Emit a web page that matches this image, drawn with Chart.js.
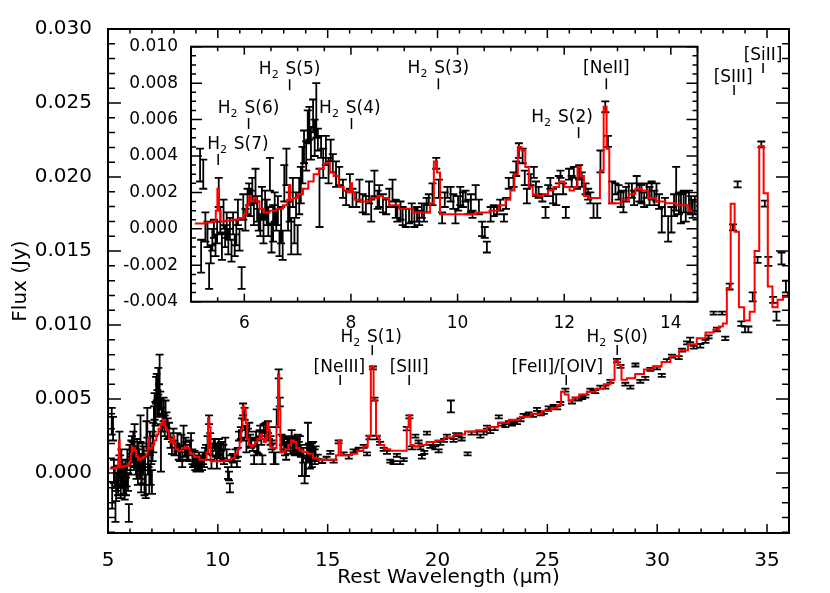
<!DOCTYPE html>
<html>
<head>
<meta charset="utf-8">
<script src="https://cdn.jsdelivr.net/npm/chart.js@4.4.1/dist/chart.umd.min.js"></script>
<style>
  html, body { margin: 0; padding: 0; background: #fff; }
  #wrap { position: relative; width: 830px; height: 593px; }
  #wrap canvas { position: absolute; left: 0; top: 0; }
</style>
</head>
<body>
<div id="wrap">
  <canvas id="main" width="830" height="593"></canvas>
  <canvas id="inset" width="830" height="593"></canvas>
</div>
<script>
// short-low spectrum (5-14.5 um)
const waveSL = [
  5.17, 5.19, 5.23, 5.27, 5.31, 5.34, 5.37, 5.40, 5.43, 5.46,
  5.49, 5.52, 5.55, 5.58, 5.61, 5.64, 5.67, 5.70, 5.73, 5.76,
  5.79, 5.82, 5.85, 5.88, 5.91, 5.95, 5.98, 6.02, 6.06, 6.09,
  6.12, 6.15, 6.18, 6.21, 6.24, 6.27, 6.30, 6.33, 6.36, 6.39,
  6.42, 6.45, 6.48, 6.51, 6.54, 6.57, 6.60, 6.63, 6.66, 6.69,
  6.72, 6.75, 6.79, 6.82, 6.85, 6.88, 6.91, 6.94, 6.97, 7.00,
  7.03, 7.06, 7.09, 7.12, 7.16, 7.19, 7.22, 7.25, 7.29, 7.32,
  7.35, 7.38, 7.41, 7.44, 7.48, 7.53, 7.58, 7.62, 7.66, 7.72,
  7.78, 7.85, 7.91, 7.98, 8.03, 8.10, 8.16, 8.22, 8.28, 8.34,
  8.38, 8.44, 8.50, 8.53, 8.60, 8.66, 8.72, 8.78, 8.84, 8.87,
  8.93, 8.97, 9.03, 9.09, 9.14, 9.19, 9.24, 9.28, 9.33, 9.37,
  9.42, 9.46, 9.53, 9.60, 9.65, 9.71, 9.76, 9.81, 9.87, 9.92,
  9.96, 10.01, 10.05, 10.10, 10.15, 10.20, 10.25, 10.28, 10.34, 10.40,
  10.46, 10.51, 10.55, 10.62, 10.68, 10.74, 10.80, 10.87, 10.91, 10.96,
  11.05, 11.10, 11.15, 11.22, 11.26, 11.30, 11.37, 11.43, 11.47, 11.52,
  11.59, 11.65, 11.70, 11.74, 11.79, 11.85, 11.90, 11.93, 11.98, 12.03,
  12.09, 12.14, 12.18, 12.24, 12.28, 12.33, 12.40, 12.45, 12.49, 12.55,
  12.62, 12.68, 12.77, 12.82, 12.90, 12.96, 13.02, 13.06, 13.11, 13.16,
  13.21, 13.27, 13.31, 13.36, 13.41, 13.45, 13.50, 13.55, 13.60, 13.64,
  13.69, 13.73, 13.78, 13.83, 13.89, 13.95, 14.01, 14.06, 14.10, 14.15,
  14.19, 14.24, 14.28, 14.34, 14.38, 14.41, 14.45
];
const fluxSL = [
  0.0035, -0.0015, 0.0030, 0.0001, -0.0003, -0.0026, -0.0014, -0.0006, 0.0000, -0.0009,
  -0.0002, 0.0020, 0.0005, -0.0010, 0.0008, -0.0004, 0.0002, -0.0007, 0.0000, -0.0012,
  0.0003, -0.0009, -0.0002, 0.0009, -0.0006, -0.0027, 0.0012, 0.0005, 0.0015, 0.0019,
  0.0014, 0.0021, 0.0009, 0.0024, 0.0011, 0.0005, 0.0002, 0.0015, -0.0001, 0.0013,
  0.0009, 0.0004, 0.0030, -0.0005, 0.0003, 0.0012, 0.0005, 0.0010, -0.0008, 0.0002,
  -0.0009, 0.0025, 0.0034, 0.0007, 0.0012, -0.0004, 0.0020, -0.0001, 0.0013, -0.0006,
  0.0018, 0.0024, 0.0035, 0.0045, 0.0040, 0.0056, 0.0058, 0.0047, 0.0062, 0.0050,
  0.0065, 0.0049, 0.0017, 0.0045, 0.0036, 0.0043, 0.0032, 0.0043, 0.0036, 0.0030,
  0.0029, 0.0022, 0.0017, 0.0026, 0.0017, 0.0016, 0.0021, 0.0014, 0.0013, 0.0020,
  0.0010, 0.0025, 0.0016, 0.0018, 0.0014, 0.0012, 0.0017, 0.0021, 0.0011, 0.0008,
  0.0010, 0.0007, 0.0006, 0.0007, 0.0009, 0.0006, 0.0008, 0.0006, 0.0010, 0.0009,
  0.0013, 0.0016, 0.0019, 0.0036, 0.0022, 0.0006, 0.0016, 0.0020, 0.0019, 0.0015,
  0.0007, 0.0014, 0.0018, 0.0016, 0.0018, 0.0012, 0.0014, 0.0008, 0.0020, 0.0012,
  0.0000, -0.0002, -0.0010, 0.0008, 0.0010, 0.0010, 0.0013, 0.0006, 0.0014, 0.0025,
  0.0027, 0.0033, 0.0043, 0.0040, 0.0028, 0.0018, 0.0027, 0.0031, 0.0022, 0.0020,
  0.0017, 0.0009, 0.0021, 0.0025, 0.0018, 0.0016, 0.0027, 0.0030, 0.0022, 0.0009,
  0.0030, 0.0026, 0.0031, 0.0025, 0.0031, 0.0027, 0.0022, 0.0019, 0.0017, 0.0010,
  0.0010, 0.0037, 0.0067, 0.0048, 0.0020, 0.0022, 0.0020, 0.0016, 0.0015, 0.0019,
  0.0021, 0.0021, 0.0017, 0.0025, 0.0020, 0.0019, 0.0016, 0.0021, 0.0018, 0.0021,
  0.0017, 0.0020, 0.0015, 0.0005, 0.0012, 0.0000, 0.0005, 0.0013, 0.0022, 0.0014,
  0.0011, 0.0015, 0.0012, 0.0015, 0.0013, 0.0011, 0.0013
];
const errSL = [
  0.0009, 0.0009, 0.0008, 0.0008, 0.0007, 0.0007, 0.0005, 0.0006, 0.0005, 0.0006,
  0.0006, 0.0008, 0.0007, 0.0007, 0.0008, 0.0006, 0.0007, 0.0007, 0.0006, 0.0006,
  0.0006, 0.0006, 0.0007, 0.0007, 0.0006, 0.0006, 0.0007, 0.0006, 0.0007, 0.0006,
  0.0007, 0.0007, 0.0007, 0.0009, 0.0007, 0.0006, 0.0006, 0.0008, 0.0007, 0.0008,
  0.0007, 0.0008, 0.0009, 0.0008, 0.0010, 0.0008, 0.0006, 0.0008, 0.0007, 0.0010,
  0.0008, 0.0010, 0.0010, 0.0008, 0.0008, 0.0010, 0.0008, 0.0007, 0.0007, 0.0008,
  0.0010, 0.0010, 0.0010, 0.0009, 0.0008, 0.0009, 0.0009, 0.0009, 0.0009, 0.0010,
  0.0015, 0.0006, 0.0016, 0.0006, 0.0008, 0.0008, 0.0007, 0.0006, 0.0005, 0.0007,
  0.0005, 0.0005, 0.0004, 0.0004, 0.0005, 0.0004, 0.0006, 0.0005, 0.0005, 0.0006,
  0.0006, 0.0007, 0.0005, 0.0006, 0.0005, 0.0004, 0.0005, 0.0006, 0.0005, 0.0004,
  0.0005, 0.0005, 0.0005, 0.0004, 0.0005, 0.0005, 0.0004, 0.0004, 0.0004, 0.0005,
  0.0004, 0.0003, 0.0006, 0.0003, 0.0005, 0.0003, 0.0004, 0.0003, 0.0004, 0.0004,
  0.0004, 0.0004, 0.0005, 0.0004, 0.0003, 0.0004, 0.0005, 0.0002, 0.0004, 0.0004,
  0.0004, 0.0003, 0.0003, 0.0004, 0.0003, 0.0002, 0.0003, 0.0002, 0.0003, 0.0003,
  0.0004, 0.0004, 0.0004, 0.0004, 0.0004, 0.0004, 0.0003, 0.0003, 0.0004, 0.0003,
  0.0002, 0.0003, 0.0003, 0.0003, 0.0004, 0.0003, 0.0002, 0.0002, 0.0003, 0.0003,
  0.0003, 0.0003, 0.0003, 0.0003, 0.0004, 0.0004, 0.0003, 0.0003, 0.0003, 0.0004,
  0.0004, 0.0006, 0.0003, 0.0003, 0.0006, 0.0003, 0.0004, 0.0004, 0.0006, 0.0004,
  0.0004, 0.0004, 0.0004, 0.0004, 0.0005, 0.0005, 0.0004, 0.0004, 0.0005, 0.0005,
  0.0004, 0.0005, 0.0004, 0.0007, 0.0005, 0.0007, 0.0007, 0.0006, 0.0012, 0.0006,
  0.0008, 0.0006, 0.0008, 0.0006, 0.0005, 0.0005, 0.0005
];

// long-low spectrum (14.5-36 um)
const waveLL = [
  14.55, 14.75, 14.95, 15.12, 15.27, 15.50, 15.73, 15.96, 16.18, 16.41,
  16.64, 16.79, 16.90, 17.06, 17.13, 17.24, 17.39, 17.55, 17.70, 17.85,
  18.00, 18.15, 18.30, 18.46, 18.60, 18.72, 18.84, 18.99, 19.14, 19.22,
  19.29, 19.40, 19.52, 19.67, 19.80, 19.90, 20.05, 20.13, 20.30, 20.43,
  20.61, 20.73, 20.85, 20.96, 21.10, 21.37, 21.55, 21.80, 21.95, 22.10,
  22.25, 22.40, 22.60, 22.79, 22.95, 23.09, 23.25, 23.39, 23.62, 23.78,
  23.92, 24.15, 24.35, 24.53, 24.70, 24.84, 25.06, 25.29, 25.45, 25.59,
  25.82, 26.12, 26.28, 26.42, 26.58, 26.73, 26.96, 27.18, 27.41, 27.64,
  27.87, 28.17, 28.33, 28.55, 28.78, 29.01, 29.23, 29.46, 29.69, 29.99,
  30.21, 30.44, 30.67, 30.98, 31.13, 31.36, 31.50, 31.66, 31.96, 32.20,
  32.34, 32.57, 32.72, 32.95, 33.10, 33.30, 33.45, 33.66, 33.83, 34.00,
  34.15, 34.35, 34.57, 34.74, 34.90, 35.06, 35.28, 35.43, 35.66, 35.86
];
const fluxLL = [
  0.0011, 0.0008, 0.0010, 0.0014, 0.0008, 0.0021, 0.0013, 0.0011, 0.0015, 0.0016,
  0.0018, 0.0013, 0.0024, 0.0071, 0.0050, 0.0024, 0.0020, 0.0016, 0.0014, 0.0008,
  0.0007, 0.0012, 0.0007, 0.0009, 0.0030, 0.0038, 0.0017, 0.0025, 0.0021, 0.0017,
  0.0011, 0.0014, 0.0027, 0.0018, 0.0020, 0.0017, 0.0015, 0.0020, 0.0022, 0.0025,
  0.0045, 0.0022, 0.0026, 0.0026, 0.0023, 0.0013, 0.0027, 0.0027, 0.0025, 0.0027,
  0.0031, 0.0028, 0.0030, 0.0038, 0.0033, 0.0032, 0.0034, 0.0033, 0.0034, 0.0036,
  0.0039, 0.0040, 0.0039, 0.0043, 0.0040, 0.0041, 0.0044, 0.0045, 0.0044, 0.0047,
  0.0056, 0.0048, 0.0050, 0.0050, 0.0051, 0.0052, 0.0056, 0.0055, 0.0058, 0.0058,
  0.0062, 0.0076, 0.0072, 0.0060, 0.0058, 0.0073, 0.0062, 0.0064, 0.0070, 0.0071,
  0.0066, 0.0076, 0.0079, 0.0078, 0.0083, 0.0088, 0.0090, 0.0085, 0.0086, 0.0089,
  0.0092, 0.0108, 0.0097, 0.0108, 0.0091, 0.0126, 0.0166, 0.0195, 0.0101, 0.0097,
  0.0097, 0.0119, 0.0144, 0.0222, 0.0182, 0.0143, 0.0117, 0.0106, 0.0145, 0.0126
];
const errLL = [
  0.00015, 0.00012, 0.0001, 0.0001, 0.0001, 0.0001, 0.0001, 0.00012, 0.0001, 0.00012,
  0.0001, 0.0001, 0.00012, 0.0001, 0.0001, 0.00012, 0.0001, 0.0001, 0.0001, 0.0001,
  0.0001, 0.0001, 0.0001, 0.0001, 0.00012, 0.0001, 0.0001, 0.0001, 0.0001, 0.0001,
  0.00012, 0.0001, 0.0001, 0.0001, 0.0001, 0.0001, 0.0001, 0.0001, 0.0001, 0.0001,
  0.0004, 0.0001, 0.0001, 0.0001, 0.0001, 0.0001, 0.0001, 0.0001, 0.0001, 0.0001,
  0.0001, 0.0001, 0.0001, 0.0001, 0.0001, 0.0001, 0.0001, 0.0001, 0.0001, 0.0001,
  0.0001, 0.0001, 0.0001, 0.0001, 0.0001, 0.0001, 0.0001, 0.0001, 0.0001, 0.0001,
  0.0001, 0.0001, 0.0001, 0.0001, 0.0001, 0.0001, 0.0001, 0.0001, 0.0001, 0.0001,
  0.0001, 0.00012, 0.0001, 0.0001, 0.0001, 0.0001, 0.0001, 0.0001, 0.0001, 0.0001,
  0.0001, 0.0001, 0.0001, 0.0001, 0.0001, 0.0001, 0.00015, 0.0001, 0.00012, 0.0001,
  0.0001, 0.0001, 0.00012, 0.0001, 0.00012, 0.0002, 0.0002, 0.0002, 0.00015, 0.0002,
  0.0002, 0.0003, 0.0002, 0.0002, 0.0002, 0.0003, 0.0002, 0.0003, 0.0004, 0.0004
];

// fitted model (drawn as histogram)
const modelWave = [
  5.07, 5.20, 5.35, 5.45, 5.48, 5.51, 5.54, 5.57, 5.70, 5.85,
  5.95, 6.02, 6.06, 6.10, 6.15, 6.20, 6.25, 6.32, 6.41, 6.54,
  6.66, 6.79, 6.82, 6.85, 6.88, 6.95, 7.05, 7.15, 7.25, 7.35,
  7.45, 7.53, 7.58, 7.63, 7.72, 7.82, 7.91, 7.97, 8.00, 8.04,
  8.10, 8.28, 8.45, 8.55, 8.65, 8.78, 9.03, 9.28, 9.45, 9.52,
  9.59, 9.64, 9.70, 9.90, 10.20, 10.50, 10.70, 10.85, 10.95, 11.03,
  11.10, 11.16, 11.24, 11.30, 11.37, 11.45, 11.55, 11.65, 11.75, 11.85,
  11.96, 12.05, 12.15, 12.22, 12.28, 12.34, 12.40, 12.50, 12.63, 12.71,
  12.77, 12.82, 12.87, 13.00, 13.15, 13.27, 13.40, 13.50, 13.64, 13.80,
  14.00, 14.20, 14.45, 14.70, 15.00, 15.30, 15.45, 15.55, 15.65, 15.90,
  16.20, 16.50, 16.75, 16.90, 17.03, 17.15, 17.25, 17.45, 17.70, 18.00,
  18.30, 18.55, 18.65, 18.72, 18.82, 19.00, 19.30, 19.70, 20.10, 20.50,
  21.00, 21.50, 22.00, 22.50, 23.00, 23.50, 24.00, 24.50, 25.00, 25.35,
  25.55, 25.70, 25.88, 26.05, 26.30, 26.60, 27.00, 27.40, 27.75, 28.00,
  28.12, 28.30, 28.45, 28.80, 29.20, 29.60, 30.00, 30.40, 30.80, 31.20,
  31.60, 32.00, 32.40, 32.72, 32.90, 33.08, 33.26, 33.43, 33.62, 33.82,
  34.09, 34.33, 34.54, 34.75, 34.94, 35.13, 35.36, 35.60, 35.85, 36.05
];
const modelFlux = [
  0.0003, 0.0003, 0.00035, 0.0004, 0.0010, 0.0022, 0.0010, 0.0004, 0.00045, 0.0005,
  0.0006, 0.0008, 0.0013, 0.0018, 0.0015, 0.0017, 0.0015, 0.0011, 0.0009, 0.0010,
  0.0011, 0.0013, 0.0016, 0.0024, 0.0016, 0.0017, 0.0019, 0.0022, 0.0026, 0.0030,
  0.0033, 0.0036, 0.0036, 0.0031, 0.0029, 0.0023, 0.0021, 0.0020, 0.0025, 0.0020,
  0.0016, 0.0015, 0.0017, 0.0018, 0.0017, 0.0013, 0.0011, 0.0009, 0.0009, 0.0014,
  0.0037, 0.0031, 0.0008, 0.0008, 0.0008, 0.0009, 0.0010, 0.0013, 0.0016, 0.0021,
  0.0030, 0.0045, 0.0043, 0.0034, 0.0023, 0.0019, 0.0018, 0.0019, 0.0021, 0.0023,
  0.0026, 0.0023, 0.0021, 0.0023, 0.0034, 0.0029, 0.0018, 0.0017, 0.0017, 0.0032,
  0.0067, 0.0044, 0.0014, 0.0014, 0.0016, 0.0019, 0.0022, 0.0021, 0.0017, 0.0015,
  0.0014, 0.0013, 0.0010, 0.0009, 0.0009, 0.0009, 0.0012, 0.0022, 0.0012, 0.0012,
  0.0013, 0.0015, 0.0018, 0.0025, 0.0072, 0.0049, 0.0025, 0.0019, 0.0016, 0.0015,
  0.0015, 0.0015, 0.0031, 0.0039, 0.0019, 0.0018, 0.0019, 0.0021, 0.0022, 0.0024,
  0.0026, 0.0028, 0.0029, 0.0031, 0.0034, 0.0036, 0.0038, 0.0040, 0.0042, 0.0044,
  0.0046, 0.0055, 0.0053, 0.0049, 0.0051, 0.0053, 0.0055, 0.0057, 0.0060, 0.0063,
  0.0076, 0.0073, 0.0063, 0.0064, 0.0067, 0.0070, 0.0072, 0.0075, 0.0079, 0.0083,
  0.0087, 0.0091, 0.0095, 0.0097, 0.0099, 0.0101, 0.0125, 0.0182, 0.0163, 0.0112,
  0.0103, 0.0109, 0.0150, 0.0221, 0.0189, 0.0126, 0.0112, 0.0117, 0.0119, 0.0121
];

// axis ticks
const mainXTicks = [5, 10, 15, 20, 25, 30, 35];
const mainYTicks = [0, 0.005, 0.010, 0.015, 0.020, 0.025, 0.030];
const insetXTicks = [6, 8, 10, 12, 14];
const insetYTicks = [-0.004, -0.002, 0, 0.002, 0.004, 0.006, 0.008, 0.010];

// line identifications
const mainLineNames = ['[NeIII]', 'H_2 S(1)', '[SIII]', '[FeII]/[OIV]', 'H_2 S(0)', '[SIII]', '[SiII]'];
const mainLineWaves = [15.57, 17.03, 18.71, 25.86, 28.18, 33.50, 34.82];
const mainLineTextWaves = [15.53, 16.98, 18.71, 25.45, 28.18, 33.46, 34.82];
const mainLineLevels = [0.00595, 0.00797, 0.00595, 0.00595, 0.00797, 0.02554, 0.02703];

const insetLineNames = ['H_2 S(7)', 'H_2 S(6)', 'H_2 S(5)', 'H_2 S(4)', 'H_2 S(3)', 'H_2 S(2)', '[NeII]'];
const insetLineWaves = [5.51, 6.08, 6.85, 8.01, 9.64, 12.27, 12.79];
const insetLineTextWaves = [5.88, 6.08, 6.85, 7.98, 9.64, 11.96, 12.79];
const insetLineLevels = [0.00351, 0.00548, 0.00761, 0.00548, 0.00766, 0.00498, 0.00766];

const FONT = 'DejaVu Sans';

const dataPoints = waveSL.concat(waveLL).map((w, i) => ({ x: w, y: fluxSL.concat(fluxLL)[i] }));
const dataErr = errSL.concat(errLL);
const modelPoints = modelWave.map((w, i) => ({ x: w, y: modelFlux[i] }));

function errorBarPlugin(width, cap){
  return {
    id: 'errorBars',
    beforeDatasetsDraw(chart){
      const { ctx, chartArea: a, scales: { x, y } } = chart;
      ctx.save();
      ctx.beginPath(); ctx.rect(a.left, a.top, a.width, a.height); ctx.clip();
      ctx.strokeStyle = '#000'; ctx.lineWidth = width;
      chart.data.datasets.forEach(ds => {
        if (!ds.errors) return;
        ctx.beginPath();
        ds.data.forEach((p, i) => {
          const px = x.getPixelForValue(p.x);
          const lo = y.getPixelForValue(p.y - ds.errors[i]);
          const hi = y.getPixelForValue(p.y + ds.errors[i]);
          ctx.moveTo(px, lo); ctx.lineTo(px, hi);
          ctx.moveTo(px - cap, lo); ctx.lineTo(px + cap, lo);
          ctx.moveTo(px - cap, hi); ctx.lineTo(px + cap, hi);
        });
        ctx.stroke();
      });
      ctx.restore();
    }
  };
}

// IDL-style box with inward major/minor ticks on all four sides
function framePlugin(s){
  return {
    id: 'frame',
    beforeDraw(chart){
      if (!s.fill) return;
      const { ctx, chartArea: a } = chart;
      ctx.save(); ctx.fillStyle = '#fff'; ctx.fillRect(a.left, a.top, a.width, a.height); ctx.restore();
    },
    afterDatasetsDraw(chart){
      const { ctx, chartArea: a, scales: { x, y } } = chart;
      ctx.save();
      ctx.strokeStyle = '#000';
      ctx.lineWidth = 1.5;
      ctx.beginPath();
      const xt = (v, len) => {
        const p = x.getPixelForValue(v);
        ctx.moveTo(p, a.bottom); ctx.lineTo(p, a.bottom - len);
        ctx.moveTo(p, a.top); ctx.lineTo(p, a.top + len);
      };
      const yt = (v, len) => {
        const p = y.getPixelForValue(v);
        ctx.moveTo(a.left, p); ctx.lineTo(a.left + len, p);
        ctx.moveTo(a.right, p); ctx.lineTo(a.right - len, p);
      };
      for (let i = Math.ceil(x.min / s.xMinor - 1e-6); i * s.xMinor <= x.max + 1e-9; i++) xt(i * s.xMinor, s.xMinorLen);
      for (let i = Math.ceil(y.min / s.yMinor - 1e-6); i * s.yMinor <= y.max + 1e-9; i++) yt(i * s.yMinor, s.yMinorLen);
      x.ticks.forEach(t => xt(t.value, s.xMajorLen));
      y.ticks.forEach(t => yt(t.value, s.yMajorLen));
      ctx.stroke();
      ctx.lineWidth = 2;
      ctx.strokeRect(a.left, a.top, a.width, a.height);
      ctx.restore();
    }
  };
}

function drawName(ctx, name, cx, base){
  const parts = name.split(/_(.)/).map((s, i) => ({ s, sub: i % 2 === 1 })).filter(p => p.s);
  const big = '17px "' + FONT + '"', small = '11px "' + FONT + '"';
  let w = 0;
  parts.forEach(p => { ctx.font = p.sub ? small : big; p.w = ctx.measureText(p.s).width + (p.sub ? 1.5 : 0); w += p.w; });
  let px = cx - w / 2;
  ctx.textAlign = 'left'; ctx.textBaseline = 'alphabetic';
  parts.forEach(p => {
    ctx.font = p.sub ? small : big;
    ctx.fillText(p.s, px, p.sub ? base + 4 : base);
    px += p.w;
  });
}

function labelPlugin(names, waves, textWaves, levels, tick, gap){
  return {
    id: 'lineLabels',
    afterDatasetsDraw(chart){
      const { ctx, scales: { x, y } } = chart;
      ctx.save();
      ctx.strokeStyle = '#000'; ctx.fillStyle = '#000'; ctx.lineWidth = 1.5;
      names.forEach((n, i) => {
        const tx = x.getPixelForValue(waves[i]);
        const ty = y.getPixelForValue(levels[i]);
        ctx.beginPath(); ctx.moveTo(tx, ty); ctx.lineTo(tx, ty - tick); ctx.stroke();
        drawName(ctx, n, x.getPixelForValue(textWaves[i]), ty - tick - gap);
      });
      ctx.restore();
    }
  };
}

function datasets(){
  return [
    { type: 'scatter', data: dataPoints, errors: dataErr, pointRadius: 0, showLine: false },
    { type: 'line', data: modelPoints, stepped: 'middle', showLine: true, borderColor: '#ff0000',
      borderWidth: 2, pointRadius: 0, fill: false }
  ];
}

const tickFont = size => ({ family: FONT, size });

new Chart(document.getElementById('main'), {
  type: 'scatter',
  data: { datasets: datasets() },
  options: {
    responsive: false, animation: false, devicePixelRatio: 1,
    layout: { padding: { top: 29, right: 41, left: 0, bottom: 0 } },
    plugins: { legend: { display: false }, tooltip: { enabled: false } },
    scales: {
      x: {
        type: 'linear', min: 5, max: 36,
        grid: { display: false }, border: { display: false },
        afterBuildTicks: s => { s.ticks = mainXTicks.map(v => ({ value: v })); },
        afterFit: s => { s.height = 60; },
        ticks: { font: tickFont(20), color: '#000', padding: 8, maxRotation: 0, autoSkip: false, callback: v => String(v) },
        title: { display: true, text: 'Rest Wavelength (\u03bcm)', font: tickFont(20), color: '#000', padding: { top: 0, bottom: 3 } }
      },
      y: {
        type: 'linear', min: -0.00405, max: 0.030,
        grid: { display: false }, border: { display: false },
        afterBuildTicks: s => { s.ticks = mainYTicks.map(v => ({ value: v })); },
        afterFit: s => { s.width = 108; },
        ticks: { font: tickFont(20), color: '#000', padding: 8, autoSkip: false, callback: v => v.toFixed(3) },
        title: { display: true, text: 'Flux (Jy)', font: tickFont(20), color: '#000', padding: { top: 9, bottom: 0 } }
      }
    }
  },
  plugins: [
    errorBarPlugin(1.8, 4),
    framePlugin({ xMinor: 1, yMinor: 0.001, xMajorLen: 9, xMinorLen: 4.5, yMajorLen: 13, yMinorLen: 7 }),
    labelPlugin(mainLineNames, mainLineWaves, mainLineTextWaves, mainLineLevels, 10, 3)
  ]
});

new Chart(document.getElementById('inset'), {
  type: 'scatter',
  data: { datasets: datasets() },
  options: {
    responsive: false, animation: false, devicePixelRatio: 1,
    layout: { padding: { top: 46.7, right: 132.5, left: 0, bottom: 0 } },
    plugins: { legend: { display: false }, tooltip: { enabled: false } },
    scales: {
      x: {
        type: 'linear', min: 5, max: 14.5,
        grid: { display: false }, border: { display: false },
        afterBuildTicks: s => { s.ticks = insetXTicks.map(v => ({ value: v })); },
        afterFit: s => { s.height = 291.3; },
        ticks: { font: tickFont(17), color: '#000', padding: 4, maxRotation: 0, autoSkip: false, callback: v => String(v) }
      },
      y: {
        type: 'linear', min: -0.004, max: 0.010,
        grid: { display: false }, border: { display: false },
        afterBuildTicks: s => { s.ticks = insetYTicks.map(v => ({ value: v })); },
        afterFit: s => { s.width = 191; },
        ticks: { font: tickFont(17), color: '#000', padding: 5, autoSkip: false, callback: v => v.toFixed(3) }
      }
    }
  },
  plugins: [
    errorBarPlugin(1.8, 4),
    framePlugin({ fill: true, xMinor: 0.5, yMinor: 0.0005, xMajorLen: 8, xMinorLen: 4.5, yMajorLen: 11, yMinorLen: 5 }),
    labelPlugin(insetLineNames, insetLineWaves, insetLineTextWaves, insetLineLevels, 11, 5)
  ]
});
</script>
</body>
</html>
